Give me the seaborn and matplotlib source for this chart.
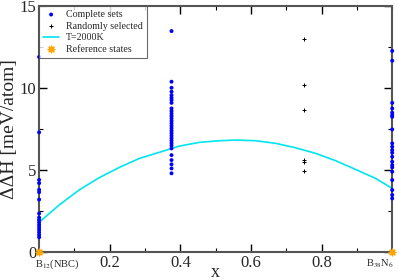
import numpy as np
import pandas as pd
import matplotlib
matplotlib.use("Agg")
import matplotlib.pyplot as plt
import seaborn as sns
from matplotlib.ticker import MultipleLocator

# Complete sets (blue dots)
x_left = 0.0
dh_left = [11.9, 7.3, 4.4, 4.2, 3.8, 3.65, 3.2, 2.35, 2.1, 1.95, 1.8, 1.65, 1.5, 1.35, 1.2, 1.05, 0.9]
x_mid = 0.375
dh_mid = [13.48, 10.39, 10.02, 9.78, 9.57, 9.41, 9.27, 9.10,
          8.76, 8.6, 8.45, 8.3, 8.15, 8.0, 7.85, 7.7, 7.55, 7.4, 7.25, 7.1,
          6.95, 6.8, 6.65, 6.5, 6.32, 5.91, 5.61, 5.35, 5.10, 4.80]
x_right = 1.0
dh_right = [12.27, 11.67, 9.10, 8.76, 8.50, 8.35, 8.25, 7.48, 6.63, 6.42,
            6.22, 6.06, 5.81, 5.51, 5.30, 5.16, 4.90, 4.39, 3.78, 3.48, 3.27]

# Randomly selected (black plus)
x_rand = [0.75, 0.75, 0.75, 0.75, 0.75, 0.75]
dh_rand = [13.0, 10.22, 8.66, 5.61, 5.47, 4.96]

# T=2000K curve
x_curve = [0.0, 0.057, 0.113, 0.170, 0.227, 0.284, 0.340, 0.397, 0.454, 0.511,
           0.556, 0.613, 0.670, 0.726, 0.783, 0.840, 0.896, 0.953, 1.0]
dh_curve = [1.81, 2.87, 3.78, 4.53, 5.16, 5.71, 6.08, 6.46, 6.69, 6.79,
            6.83, 6.79, 6.63, 6.36, 6.02, 5.57, 5.04, 4.49, 3.88]

# Reference states (orange star)
x_ref = [0.0, 1.0]
dh_ref = [0.0, 0.0]

complete = pd.DataFrame({
    "x": [x_left] * len(dh_left) + [x_mid] * len(dh_mid) + [x_right] * len(dh_right),
    "dH": dh_left + dh_mid + dh_right,
})
rand = pd.DataFrame({"x": x_rand, "dH": dh_rand})
curve = pd.DataFrame({"x": x_curve, "dH": dh_curve})
ref = pd.DataFrame({"x": x_ref, "dH": dh_ref})

sns.set_style("ticks")
plt.rcParams["font.family"] = ["Liberation Serif", "DejaVu Serif"]
plt.rcParams["mathtext.fontset"] = "stix"

fig, ax = plt.subplots(figsize=(3.99, 2.80), dpi=100)

sns.scatterplot(data=complete, x="x", y="dH", ax=ax, color="#0000ff", marker="o",
                s=8, edgecolor="none", label="Complete sets", clip_on=False, zorder=3)
sns.scatterplot(data=rand, x="x", y="dH", ax=ax, color="black", marker="+",
                s=12, linewidth=0.7, label="Randomly selected", zorder=3)
sns.lineplot(data=curve, x="x", y="dH", ax=ax, color="#00e5ee", linewidth=1.2,
             label="T=2000K", sort=True, zorder=2)
sns.scatterplot(data=ref, x="x", y="dH", ax=ax, color="#ffa500", marker=(8, 2, 0),
                s=22, linewidth=1.0, label="Reference states", clip_on=False, zorder=4)

ax.set_xlim(0, 1)
ax.set_ylim(0, 15)
ax.xaxis.set_major_locator(MultipleLocator(0.2))
ax.xaxis.set_minor_locator(MultipleLocator(0.1))
ax.yaxis.set_major_locator(MultipleLocator(5))
ax.yaxis.set_minor_locator(MultipleLocator(2.5))
ax.tick_params(which="both", direction="in", top=True, right=True, color="black")
ax.tick_params(which="major", length=6, width=1.0, labelsize=12, pad=2)
ax.tick_params(which="minor", length=3, width=0.8)

ax.set_xticks([0.2, 0.4, 0.6, 0.8])
ax.set_xticklabels(["0.2", "0.4", "0.6", "0.8"])
ax.annotate(r"B$_{12}$(NBC)", xy=(0.0, 0), xycoords=("data", "axes fraction"),
            xytext=(-3, -4), textcoords="offset points",
            ha="left", va="top", fontsize=7.5)
ax.annotate(r"B$_{38}$N$_{6}$", xy=(1.0, 0), xycoords=("data", "axes fraction"),
            xytext=(1, -4), textcoords="offset points",
            ha="right", va="top", fontsize=7.5)

for sp in ax.spines.values():
    sp.set_color("#555555")
    sp.set_linewidth(1.5)

ax.set_xlabel("x", fontsize=13, labelpad=-5)
ax.set_ylabel("ΔΔH [meV/atom]", fontsize=14, labelpad=1)

leg = ax.legend(loc="upper left", fontsize=7.2, frameon=True, fancybox=False,
                borderaxespad=0, handlelength=1.6, handletextpad=0.7,
                labelspacing=0.25, borderpad=0.4)
leg.get_frame().set_edgecolor("#444444")
leg.get_frame().set_linewidth(0.8)

fig.subplots_adjust(left=0.098, right=0.983, top=0.978, bottom=0.1)
fig.savefig("out.png", dpi=100)
